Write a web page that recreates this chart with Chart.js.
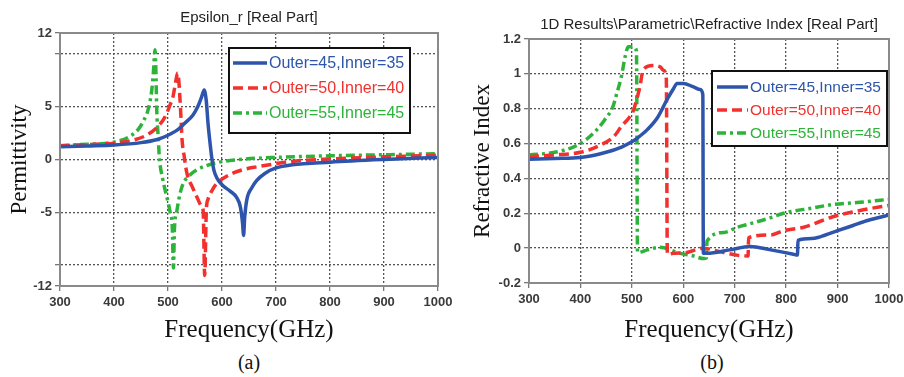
<!DOCTYPE html>
<html>
<head>
<meta charset="utf-8">
<script src="https://cdn.jsdelivr.net/npm/chart.js@4.4.1/dist/chart.umd.min.js"></script>
<style>
    html, body { margin: 0; padding: 0; background: #fff; }
    body { width: 904px; height: 377px; position: relative; overflow: hidden; }
    .panel { position: absolute; top: 0; }
    .caption { position: absolute; font-family: "Liberation Serif", "Times New Roman", serif; font-size: 20px; color: #111; transform: translateX(-50%); }
</style>
</head>
<body>
<div class="panel" style="left:0;width:470px;height:345px;"><canvas id="chartEps" width="470" height="345"></canvas></div>
<div class="panel" style="left:452px;width:452px;height:345px;"><canvas id="chartIdx" width="452" height="345"></canvas></div>
<div class="caption" style="left:249px;top:351px;">(a)</div>
<div class="caption" style="left:712px;top:351px;">(b)</div>
<script>
// Legenda (mesma para os dois gráficos)
const seriesLabels = ['Outer=45,Inner=35', 'Outer=50,Inner=40', 'Outer=55,Inner=45'];

// (a) Epsilon_r [Real Part]
const epsFreqBlue = [300, 350, 400, 450, 480, 500, 520, 530, 546, 555, 562, 567, 571, 574, 578, 581, 585, 590, 600, 615, 627, 634, 638, 640, 642, 646, 655, 664, 680, 700, 730, 800, 900, 1000];
const epsBlue = [1.2, 1.28, 1.37, 1.6, 1.9, 2.3, 2.9, 3.4, 4.2, 5.0, 5.9, 6.6, 5.5, 3.5, 1.5, 0.2, -1.0, -1.7, -2.4, -3.0, -3.6, -4.5, -6.0, -7.2, -5.5, -3.8, -2.7, -2.0, -1.3, -0.8, -0.5, -0.25, 0.0, 0.2];

const epsFreqRed = [300, 350, 400, 440, 460, 479, 494, 504, 509, 515, 518, 520, 522, 524, 526, 530, 535, 545, 553, 562, 565, 568, 571, 574, 582, 590, 605, 620, 640, 664, 700, 726, 800, 900, 1000];
const epsRed = [1.3, 1.42, 1.55, 1.9, 2.3, 3.0, 4.0, 5.2, 5.9, 7.6, 8.2, 7.5, 5.9, 4.0, 1.9, 0.3, -1.3, -2.6, -3.5, -4.4, -4.8, -11.0, -4.8, -3.8, -2.9, -2.3, -1.7, -1.3, -0.95, -0.7, -0.4, -0.2, 0.05, 0.25, 0.4];

const epsFreqGreen = [300, 350, 400, 444, 455, 463, 470, 473, 476, 478, 479, 482, 484, 490, 498, 504, 508, 510, 512, 516, 522, 528, 540, 553, 570, 590, 633, 700, 800, 900, 1000];
const epsGreen = [1.3, 1.45, 1.65, 2.8, 3.7, 4.7, 6.6, 8.3, 10.4, 7.5, 5.0, 2.0, 0.2, -1.8, -3.6, -5.0, -6.5, -10.3, -6.5, -5.0, -3.3, -2.3, -1.5, -1.0, -0.6, -0.3, 0.0, 0.2, 0.35, 0.45, 0.55];

const epsTicks = [-12, -10, -5, 0, 5, 10, 12];
const epsTickLabels = ['-12', '', '-5', '0', '5', '', '12'];

// (b) Refractive Index [Real Part]
const idxFreqBlue = [300, 350, 400, 450, 480, 500, 510, 530, 550, 568, 580, 588, 600, 620, 633, 638, 639, 646, 690, 730, 770, 814, 822, 823, 850, 866, 900, 930, 960, 1000];
const idxBlue = [0.51, 0.515, 0.52, 0.55, 0.58, 0.61, 0.63, 0.68, 0.75, 0.85, 0.91, 0.945, 0.945, 0.925, 0.91, 0.88, -0.03, -0.03, -0.01, 0.01, -0.01, -0.035, -0.04, 0.045, 0.055, 0.065, 0.1, 0.13, 0.16, 0.19];

const idxFreqRed = [300, 350, 400, 438, 465, 480, 495, 503, 510, 516, 520, 526, 540, 555, 562, 567, 569, 580, 607, 638, 671, 704, 726, 727, 769, 795, 834, 891, 950, 1000];
const idxRed = [0.525, 0.535, 0.55, 0.59, 0.64, 0.7, 0.75, 0.79, 0.86, 0.93, 1.0, 1.035, 1.048, 1.04, 1.02, 0.97, -0.035, -0.03, -0.025, 0.0, -0.02, -0.04, -0.045, 0.06, 0.075, 0.1, 0.12, 0.18, 0.22, 0.245];

const idxFreqGreen = [300, 350, 386, 410, 432, 448, 463, 470, 480, 487, 493, 503, 509, 511, 530, 555, 594, 620, 640, 645, 646, 680, 705, 730, 765, 795, 850, 891, 950, 1000];
const idxGreen = [0.535, 0.55, 0.58, 0.62, 0.68, 0.74, 0.81, 0.88, 0.99, 1.1, 1.155, 1.155, 1.13, -0.025, -0.01, 0.005, -0.03, -0.045, -0.06, -0.055, 0.04, 0.09, 0.12, 0.14, 0.17, 0.2, 0.23, 0.25, 0.265, 0.28];

const idxTicks = [-0.2, 0, 0.2, 0.4, 0.6, 0.8, 1.0, 1.2];
const idxTickLabels = ['-0.2', '0', '0.2', '0.4', '0.6', '0.8', '1', '1.2'];

const freqTicks = [300, 400, 500, 600, 700, 800, 900, 1000];

const BLUE = '#2c55ab';
const RED = '#f2302e';
const GREEN = '#2eb33a';

// Moldura cinza em volta da área do gráfico
const framePlugin = {
    id: 'plotFrame',
    afterDraw(chart) {
        const a = chart.chartArea;
        const ctx = chart.ctx;
        ctx.save();
        ctx.strokeStyle = '#8a8a8a';
        ctx.lineWidth = 2;
        ctx.strokeRect(a.left, a.top, a.right - a.left, a.bottom - a.top);
        ctx.restore();
    }
};

// Legenda em caixa dentro da área do gráfico
const boxLegendPlugin = {
    id: 'boxLegend',
    afterDatasetsDraw(chart, args, opts) {
        const ctx = chart.ctx;
        ctx.save();
        ctx.fillStyle = '#fff';
        ctx.fillRect(opts.x, opts.y, opts.w, opts.h);
        ctx.lineWidth = 2;
        ctx.strokeStyle = '#111';
        ctx.strokeRect(opts.x, opts.y, opts.w, opts.h);
        chart.data.datasets.forEach((ds, i) => {
            const y = opts.y + opts.firstRow + i * opts.rowGap;
            ctx.setLineDash(ds.borderDash || []);
            ctx.strokeStyle = ds.borderColor;
            ctx.lineWidth = ds.borderWidth;
            ctx.beginPath();
            ctx.moveTo(opts.x + opts.lineStart, y);
            ctx.lineTo(opts.x + opts.lineStart + opts.lineLen, y);
            ctx.stroke();
            ctx.setLineDash([]);
            ctx.fillStyle = ds.borderColor;
            ctx.font = opts.fontSize + 'px "Liberation Sans", Arial, sans-serif';
            ctx.textBaseline = 'middle';
            ctx.fillText(ds.label, opts.x + opts.textStart, y + 1);
        });
        ctx.restore();
    }
};

function toPoints(xs, ys) {
    return xs.map((x, i) => ({ x: x, y: ys[i] }));
}

function makeDatasets(blue, red, green) {
    const common = { pointRadius: 0, borderWidth: 3.5, fill: false, cubicInterpolationMode: 'monotone', borderJoinStyle: 'round' };
    return [
        Object.assign({ label: seriesLabels[0], data: blue, borderColor: BLUE, borderDash: [] }, common),
        Object.assign({ label: seriesLabels[1], data: red, borderColor: RED, borderDash: [10, 5] }, common),
        Object.assign({ label: seriesLabels[2], data: green, borderColor: GREEN, borderDash: [9, 4, 3, 4] }, common)
    ];
}

function buildChart(canvasId, cfg) {
    const tickFont = { family: '"Liberation Sans", Arial, sans-serif', size: 13, weight: 'bold' };
    const gridOpts = { display: true, drawOnChartArea: true, drawTicks: true, color: '#555', lineWidth: 1.3, tickColor: '#777', tickLength: 5 };
    const borderOpts = { display: true, color: '#8a8a8a', width: 2, dash: [2, 2] };

    return new Chart(document.getElementById(canvasId), {
        type: 'line',
        data: { datasets: cfg.datasets },
        options: {
            responsive: false,
            animation: false,
            layout: { padding: { left: 0, right: cfg.padRight, top: 0, bottom: 0 } },
            scales: {
                x: {
                    type: 'linear',
                    min: 300,
                    max: 1000,
                    afterBuildTicks: s => { s.ticks = freqTicks.map(v => ({ value: v })); },
                    afterFit: s => { s.height = cfg.xHeight; s.paddingLeft = 0; s.paddingRight = 0; },
                    ticks: { font: tickFont, color: '#3a3a3a', padding: 4, maxRotation: 0, callback: v => String(v) },
                    grid: gridOpts,
                    border: borderOpts,
                    title: {
                        display: true,
                        text: 'Frequency(GHz)',
                        font: { family: '"Liberation Serif", "Times New Roman", serif', size: 25 },
                        color: '#111',
                        padding: { top: 5, bottom: 0 }
                    }
                },
                y: {
                    type: 'linear',
                    min: cfg.yTicks[0],
                    max: cfg.yTicks[cfg.yTicks.length - 1],
                    afterBuildTicks: s => { s.ticks = cfg.yTicks.map(v => ({ value: v })); },
                    afterFit: s => { s.width = cfg.yWidth; },
                    ticks: {
                        font: tickFont,
                        color: '#3a3a3a',
                        padding: 3,
                        callback: (v, i) => cfg.yLabels[i]
                    },
                    grid: gridOpts,
                    border: borderOpts,
                    title: {
                        display: true,
                        text: cfg.yTitle,
                        font: { family: '"Liberation Serif", "Times New Roman", serif', size: 23 },
                        color: '#111',
                        padding: { top: cfg.yTitlePad, bottom: 0 }
                    }
                }
            },
            plugins: {
                legend: { display: false },
                tooltip: { enabled: false },
                title: {
                    display: true,
                    text: cfg.title,
                    fullSize: false,
                    font: { family: '"Liberation Sans", Arial, sans-serif', size: 15, weight: 'normal', lineHeight: 1.2 },
                    color: '#222',
                    padding: cfg.titlePad
                },
                boxLegend: cfg.legend
            }
        },
        plugins: [framePlugin, boxLegendPlugin]
    });
}

document.addEventListener('DOMContentLoaded', function () {
    buildChart('chartEps', {
        datasets: makeDatasets(toPoints(epsFreqBlue, epsBlue), toPoints(epsFreqRed, epsRed), toPoints(epsFreqGreen, epsGreen)),
        title: 'Epsilon_r [Real Part]',
        titlePad: { top: 8.5, bottom: 6.5 },
        yTitle: 'Permittivity',
        yTitlePad: 6,
        yTicks: epsTicks,
        yLabels: epsTickLabels,
        yWidth: 60,
        xHeight: 59,
        padRight: 32,
        legend: { x: 229, y: 48, w: 181, h: 85, firstRow: 15, rowGap: 25, lineStart: 4, lineLen: 34, textStart: 40, fontSize: 16 }
    });

    buildChart('chartIdx', {
        datasets: makeDatasets(toPoints(idxFreqBlue, idxBlue), toPoints(idxFreqRed, idxRed), toPoints(idxFreqGreen, idxGreen)),
        title: '1D Results\\Parametric\\Refractive Index [Real Part]',
        titlePad: { top: 16, bottom: 5 },
        yTitle: 'Refractive Index',
        yTitlePad: 17,
        yTicks: idxTicks,
        yLabels: idxTickLabels,
        yWidth: 77,
        xHeight: 62,
        padRight: 15,
        legend: { x: 260, y: 71, w: 175, h: 75, firstRow: 16, rowGap: 23, lineStart: 5, lineLen: 31, textStart: 38, fontSize: 15.5 }
    });
});
</script>
</body>
</html>
